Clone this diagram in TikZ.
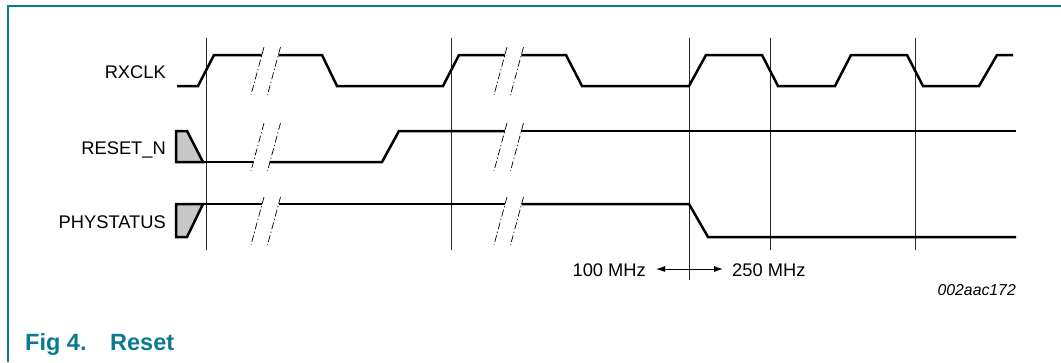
\documentclass[tikz,border=0pt]{standalone}
\usepackage{fontspec}
\setmainfont{Liberation Sans}
\usetikzlibrary{arrows.meta}
\definecolor{nxpteal}{RGB}{10,122,145}
\definecolor{boxgray}{RGB}{200,200,200}
\begin{document}
\begin{tikzpicture}[x=1pt,y=-1pt,
  sig/.style={line width=2.5pt, line join=miter, line cap=butt},
  gridline/.style={line width=0.8pt, black!85},
  brk/.style={line width=0.7pt, dash pattern=on 7pt off 2.5pt on 1.2pt off 2.5pt},
  lbl/.style={inner sep=0pt, font=\fontsize{18.3}{22}\selectfont, anchor=base east},
  frq/.style={inner sep=0pt, font=\fontsize{18.3}{22}\selectfont},
  codetxt/.style={inner sep=0pt, font=\fontsize{15.8}{19}\selectfont\itshape, anchor=base east},
  captxt/.style={inner sep=0pt, font=\fontsize{23.5}{28}\selectfont\bfseries, text=nxpteal, anchor=base west},
  initbox/.style={fill=boxgray, draw=black, line width=2.5pt, line join=miter},
  framestyle/.style={draw=nxpteal, line width=2pt},
  dim/.style={line width=0.9pt, -{Latex[length=9pt,width=6pt]}}
]
\useasboundingbox (0,0) rectangle (1061,362);
% frame
\draw[framestyle] (8,362) -- (8,5.5) -- (1061,5.5);

% labels
\node[lbl] (lrx) at (166,78.5) {RXCLK};
\node[lbl] (lrs) at (166,154) {RESET\_N};
\node[lbl] (lph) at (166,228) {PHYSTATUS};

% vertical reference lines
\foreach \x/\yb in {206/250, 451/250, 689/280, 770/250, 915/250}
  \draw[gridline] (\x,38) -- (\x,\yb);

% break marks
\foreach \X in {264,507}
  \foreach \yc in {71,147,221} {
    \draw[brk] (\X,\yc-24) -- ++(-13,48);
    \draw[brk] (\X+16.5,\yc-24) -- ++(-13,48);
  }

% RXCLK
\draw[sig] (177,86) -- (198,86) -- (214,55) -- (261.8,55);
\draw[sig] (278.3,55) -- (322,55) -- (337,86) -- (443,86) -- (459,55) -- (504.8,55);
\draw[sig] (521.3,55) -- (566,55) -- (582,86) -- (689,86) -- (706,55) -- (762,55)
  -- (778,86) -- (835,86) -- (851,55) -- (907,55) -- (923,86) -- (979,86)
  -- (997,55) -- (1013,55);

% RESET_N
\draw[initbox] (176,131) -- (187,131) -- (203,162) -- (176,162) -- cycle;
\draw[sig] (203,162) -- (253.4,162);
\draw[sig] (269.9,162) -- (382,162) -- (399,131) -- (504.8,131);
\draw[sig] (521.3,131) -- (1016,131);

% PHYSTATUS
\draw[initbox] (176,204) -- (203,204) -- (187,237) -- (176,237) -- cycle;
\draw[sig] (203,204) -- (262.1,204);
\draw[sig] (278.6,204) -- (505.1,204);
\draw[sig] (521.6,204) -- (689,204) -- (708,237) -- (1016,237);

% frequency annotation
\coordinate (fm) at (689,269);
\coordinate (fl) at (656,269);
\coordinate (fr) at (723,269);
\draw[dim] (fm) -- (fl);
\draw[dim] (fm) -- (fr);
\node[frq, anchor=base east] (f100) at (646,276) {100 MHz};
\node[frq, anchor=base west] (f250) at (732,276) {250 MHz};

\node[codetxt] (id) at (1016,295) {002aac172};

% caption
\node[captxt] (fig) at (25,350) {Fig 4.};
\node[captxt] (ttl) at (110,350) {Reset};
\end{tikzpicture}
\end{document}
